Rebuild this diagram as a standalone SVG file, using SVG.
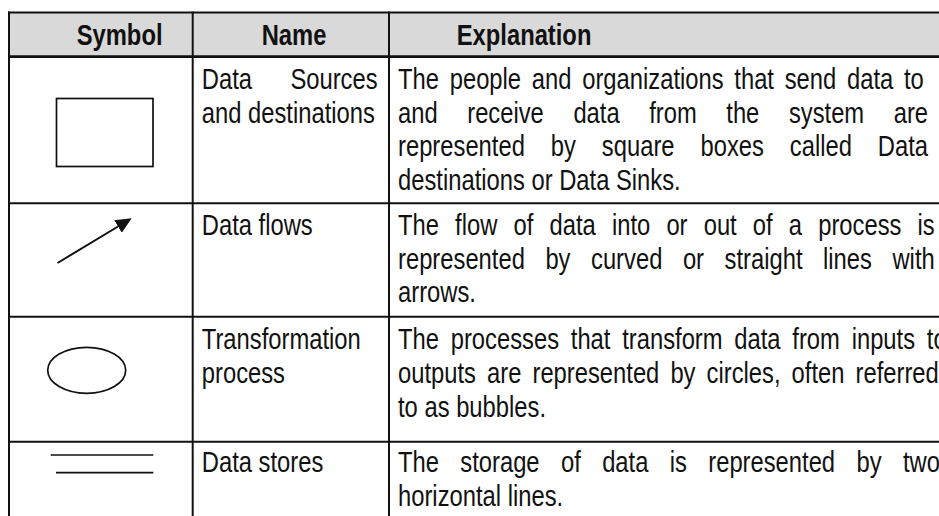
<svg xmlns="http://www.w3.org/2000/svg" width="939" height="516" viewBox="0 0 939 516">
  <style>
    .grid { stroke: #111; stroke-width: 2; fill: none; }
    .sym { stroke: #111; stroke-width: 1.7; fill: none; }
    .txt { font-family: "Liberation Sans", Arial, sans-serif; font-size: 29px; fill: #111; }
    .hd { font-weight: bold; }
  </style>
  <defs>
    <marker id="head" markerUnits="userSpaceOnUse" markerWidth="17" markerHeight="16" refX="0" refY="7.35" orient="auto">
      <path d="M0,0 L16,7.35 L0,14.7 Z" fill="#111"/>
    </marker>
  </defs>

  <rect width="939" height="516" fill="#fff"/>

  <!-- header band -->
  <rect x="9" y="12" width="930" height="44.5" fill="#d9d9d9"/>

  <!-- table rules -->
  <g id="grid" class="grid">
    <line x1="8" y1="12.5" x2="939" y2="12.5"/>
    <line x1="8" y1="56.7" x2="939" y2="56.7" stroke-width="2.8"/>
    <line x1="8" y1="203.3" x2="939" y2="203.3"/>
    <line x1="8" y1="316.7" x2="939" y2="316.7"/>
    <line x1="8" y1="441.7" x2="939" y2="441.7"/>
    <line x1="9" y1="11.5" x2="9" y2="516"/>
    <line x1="192.7" y1="11.5" x2="192.7" y2="516"/>
    <line x1="389" y1="11.5" x2="389" y2="516"/>
  </g>

  <!-- symbols -->
  <g id="sym-source">
    <rect class="sym" x="56.5" y="98.5" width="96.5" height="68"/>
  </g>
  <g id="sym-flow">
    <line x1="57.5" y1="263" x2="118" y2="226.5" stroke="#111" stroke-width="2" marker-end="url(#head)"/>
  </g>
  <g id="sym-process">
    <ellipse class="sym" cx="86.7" cy="370.3" rx="39" ry="23"/>
  </g>
  <g id="sym-store" class="sym">
    <line x1="50.7" y1="455" x2="153.3" y2="455"/>
    <line x1="56" y1="472.7" x2="153.3" y2="472.7"/>
  </g>

  <!-- narrow type: Liberation Sans compressed to 82% width -->
  <g transform="scale(0.82 1)" class="txt">
    <g id="header" class="hd">
      <text x="93.5" y="45">Symbol</text>
      <text x="319.1" y="45">Name</text>
      <text x="557" y="45">Explanation</text>
    </g>

    <g id="row-sources">
      <text x="246.1" y="89" word-spacing="38.8">Data Sources</text>
      <text x="246.1" y="122.7">and destinations</text>
      <text x="485.4" y="89" word-spacing="5.06">The people and organizations that send data to</text>
      <text x="485.4" y="122.7" word-spacing="28">and receive data from the system are</text>
      <text x="485.4" y="156.4" word-spacing="23.6">represented by square boxes called Data</text>
      <text x="485.4" y="190.1">destinations or Data Sinks.</text>
    </g>

    <g id="row-flows">
      <text x="485.4" y="235" word-spacing="11.65">The flow of data into or out of a process is</text>
      <text x="246.1" y="235">Data flows</text>
      <text x="485.4" y="268.7" word-spacing="17">represented by curved or straight lines with</text>
      <text x="485.4" y="302.4">arrows.</text>
    </g>

    <g id="row-process">
      <text x="246.1" y="349.5">Transformation</text>
      <text x="246.1" y="383.2">process</text>
      <text x="485.4" y="349.5" word-spacing="6.3">The processes that transform data from inputs to</text>
      <text x="485.4" y="383.2" word-spacing="5.47">outputs are represented by circles, often referred</text>
      <text x="485.4" y="416.9">to as bubbles.</text>
    </g>

    <g id="row-stores">
      <text x="246.1" y="472">Data stores</text>
      <text x="485.4" y="472" word-spacing="18">The storage of data is represented by two</text>
      <text x="485.4" y="505.7">horizontal lines.</text>
    </g>
  </g>
</svg>
